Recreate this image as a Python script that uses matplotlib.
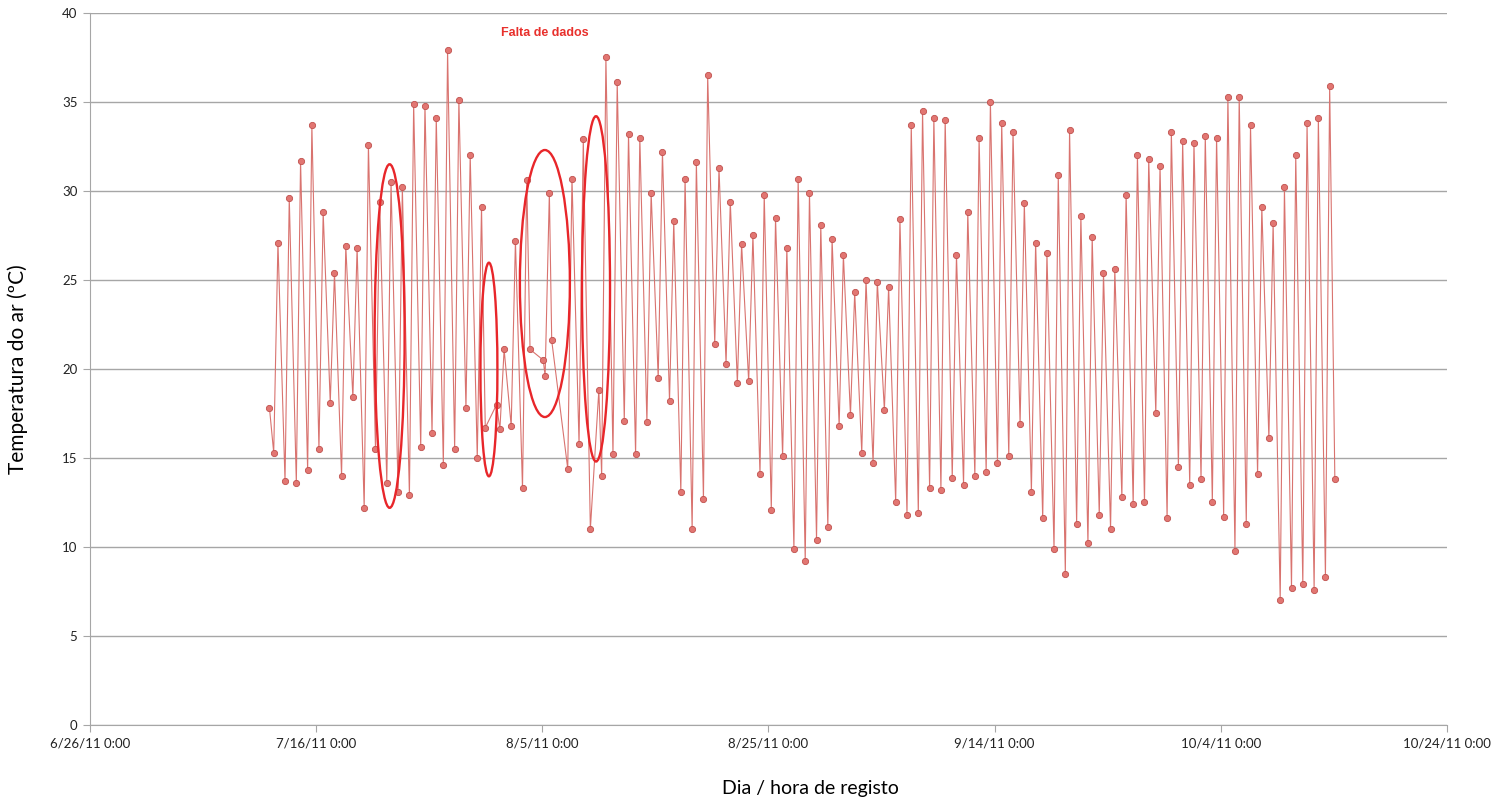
import matplotlib
matplotlib.use("Agg")
import matplotlib.pyplot as plt
import matplotlib.dates as mdates
from matplotlib.patches import Ellipse
import pandas as pd

# Daily minimum (~06:00) and maximum (~15:00) air temperature (ºC).
# None = no reading that day (logger gap).
jul_days = pd.date_range("2011-07-12", "2011-07-31")
jul_min = [15.3, 13.7, 13.6, 14.3, 15.5, 18.1, 14.0, 18.4, 12.2, 15.5,
           13.6, 13.1, 12.9, 15.6, 16.4, 14.6, 15.5, 17.8, 15.0, None]
jul_max = [27.1, 29.6, 31.7, 33.7, 28.8, 25.4, 26.9, 26.8, 32.6, 29.4,
           30.5, 30.2, 34.9, 34.8, 34.1, 37.9, 35.1, 32.0, 29.1, None]

aug_days = pd.date_range("2011-08-01", "2011-08-31")
aug_min = [16.6, 16.8, 13.3, None, 19.6, None, 14.4, 15.8, 11.0, 14.0,
           15.2, 17.1, 15.2, 17.0, 19.5, 18.2, 13.1, 11.0, 12.7, 21.4,
           20.3, 19.2, 19.3, 14.1, 12.1, 15.1, 9.9, 9.2, 10.4, 11.1, 16.8]
aug_max = [21.1, 27.2, 30.6, None, 29.9, None, 30.7, 32.9, None, 37.5,
           36.1, 33.2, 33.0, 29.9, 32.2, 28.3, 30.7, 31.6, 36.5, 31.3,
           29.4, 27.0, 27.5, 29.8, 28.5, 26.8, 30.7, 29.9, 28.1, 27.3, 26.4]

sep_days = pd.date_range("2011-09-01", "2011-09-30")
sep_min = [17.4, 15.3, 14.7, 17.7, 12.5, 11.8, 11.9, 13.3, 13.2, 13.9,
           13.5, 14.0, 14.2, 14.7, 15.1, 16.9, 13.1, 11.6, 9.9, 8.5,
           11.3, 10.2, 11.8, 11.0, 12.8, 12.4, 12.5, 17.5, 11.6, 14.5]
sep_max = [24.3, 25.0, 24.9, 24.6, 28.4, 33.7, 34.5, 34.1, 34.0, 26.4,
           28.8, 33.0, 35.0, 33.8, 33.3, 29.3, 27.1, 26.5, 30.9, 33.4,
           28.6, 27.4, 25.4, 25.6, 29.8, 32.0, 31.8, 31.4, 33.3, 32.8]

oct_days = pd.date_range("2011-10-01", "2011-10-13")
oct_min = [13.5, 13.8, 12.5, 11.7, 9.8, 11.3, 14.1, 16.1, 7.0, 7.7, 7.9, 7.6, 8.3]
oct_max = [32.7, 33.1, 33.0, 35.3, 35.3, 33.7, 29.1, 28.2, 30.2, 32.0, 33.8, 34.1, 35.9]

# other single readings (start/end of record and edges of the gaps)
extra_times = ["2011-07-11 21:00", "2011-07-30 23:00", "2011-07-31 23:00",
               "2011-08-03 22:00", "2011-08-05 02:00", "2011-08-05 20:00",
               "2011-08-10 00:00", "2011-10-14 02:00"]
extra_vals = [17.8, 16.7, 18.0, 21.1, 20.5, 21.6, 18.8, 13.8]

# "Falta de dados" (missing data) ellipses: centre time, centre temp, width (days), height (ºC)
gap_centres = ["2011-07-22 12:00", "2011-07-31 06:45", "2011-08-05 05:30", "2011-08-09 18:00"]
gap_temp = [21.85, 19.97, 24.8, 24.5]
gap_width = [2.65, 1.5, 4.42, 2.48]
gap_height = [19.3, 12.0, 15.0, 19.4]

days = list(jul_days) + list(aug_days) + list(sep_days) + list(oct_days)
tmin = jul_min + aug_min + sep_min + oct_min
tmax = jul_max + aug_max + sep_max + oct_max

times, vals = [], []
for d, lo, hi in zip(days, tmin, tmax):
    if lo is not None:
        times.append(d + pd.Timedelta(hours=6))
        vals.append(lo)
    if hi is not None:
        times.append(d + pd.Timedelta(hours=15))
        vals.append(hi)
times += list(pd.to_datetime(extra_times))
vals += extra_vals
temp = pd.Series(vals, index=pd.DatetimeIndex(times)).sort_index()

fig = plt.figure(figsize=(15.04, 8.05), dpi=100)
ax = fig.add_axes([0.0598, 0.0994, 0.9023, 0.8845])

ax.plot(temp.index, temp.values, color="#d9736f", lw=0.8, marker="o", ms=4.5,
        mfc="#e27672", mec="#c0504d", mew=0.6, zorder=3)

for c, t, w, h in zip(gap_centres, gap_temp, gap_width, gap_height):
    ax.add_patch(Ellipse((mdates.date2num(pd.Timestamp(c)), t), w, h,
                         fill=False, ec="#e8262a", lw=1.7, zorder=4))
ax.text(pd.Timestamp("2011-08-05 06:00"), 38.9, "Falta de dados", color="#e8302c",
        fontweight="bold", fontsize=9, family="Liberation Sans", ha="center", va="center")

xticks = pd.date_range("2011-06-26", "2011-10-24", freq="20D")
ax.set_xlim(xticks[0], xticks[-1])
ax.set_xticks(xticks)
ax.set_xticklabels([f"{t.month}/{t.day}/{t:%y} {t.hour}:{t:%M}" for t in xticks],
                   family="Lato")
ax.set_ylim(0, 40)
ax.set_yticks(range(0, 41, 5))
for lab in ax.get_yticklabels():
    lab.set_family("Lato")

ax.grid(axis="y", color="#a6a6a6", lw=1)
ax.set_axisbelow(True)
for side in ["top", "right"]:
    ax.spines[side].set_visible(False)
for side in ["left", "bottom"]:
    ax.spines[side].set_color("#a6a6a6")
ax.tick_params(color="#a6a6a6", length=5, labelsize=9.5, labelcolor="#222222", pad=4)

ax.set_ylabel("Temperatura do ar (ºC)", family="Lato", fontsize=15)
ax.yaxis.set_label_coords(-0.046, 0.5)
ax.set_xlabel("Dia / hora de registo", family="Lato", fontsize=14)
ax.xaxis.set_label_coords(0.5306, -0.077)

fig.savefig("out.png", dpi=100)
